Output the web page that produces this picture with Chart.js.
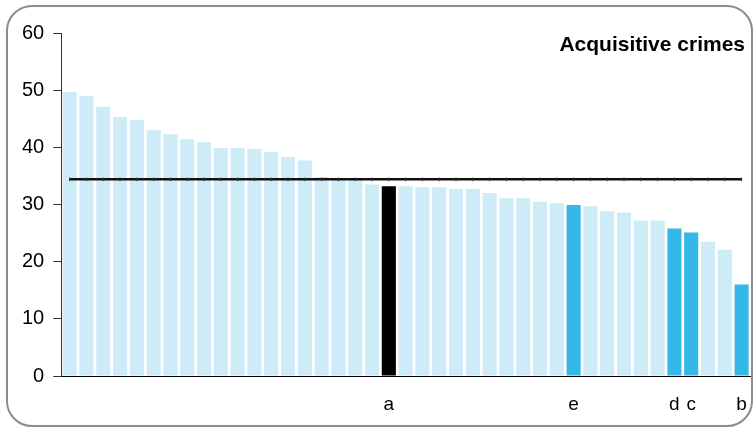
<!DOCTYPE html>
<html>
<head>
<meta charset="utf-8">
<script src="https://cdn.jsdelivr.net/npm/chart.js@4.4.1/dist/chart.umd.min.js"></script>
<style>
  html, body { margin: 0; padding: 0; background: #fff; }
  #wrap { position: relative; width: 755px; height: 429px; }
  #frame { position: absolute; left: 6px; top: 5px; width: 743px; height: 418px;
           border: 2px solid #8c8c8c; border-radius: 26px; pointer-events: none; }
  canvas { position: absolute; left: 0; top: 0; }
</style>
</head>
<body>
<div id="wrap">
  <canvas id="c" width="755" height="429"></canvas>
  <div id="frame"></div>
</div>
<script>
// Category labels (only marked areas are labelled)
const categories = ['', '', '', '', '', '', '', '', '', '',
                    '', '', '', '', '', '', '', '', '', 'a',
                    '', '', '', '', '', '', '', '', '', '',
                    'e', '', '', '', '', '', 'd', 'c', '', '',
                    'b'];
// Bar values (crimes)
const values = [49.7, 49.0, 47.1, 45.3, 44.8, 43.0, 42.3, 41.4, 40.9, 39.9,
                39.9, 39.7, 39.2, 38.3, 37.7, 34.8, 34.5, 34.4, 33.5, 33.2,
                33.2, 33.0, 33.0, 32.7, 32.7, 32.0, 31.1, 31.1, 30.5, 30.2,
                29.9, 29.7, 28.8, 28.6, 27.2, 27.2, 25.8, 25.1, 23.5, 22.1,
                16.0];
// Average reference line
const averageValue = 34.4;
const selectedLabels = ['a'];
const comparatorLabels = ['e', 'd', 'c', 'b'];
const yTicks = [0, 10, 20, 30, 40, 50, 60];
const titleText = 'Acquisitive crimes';

const barColors = categories.map(l =>
  selectedLabels.includes(l) ? '#000000' :
  comparatorLabels.includes(l) ? '#33b8e8' : '#cdecf8');

const titlePlugin = {
  id: 'cornerTitle',
  afterDraw(chart) {
    const ctx = chart.ctx;
    ctx.save();
    ctx.font = 'bold 21px "Liberation Sans", Arial, sans-serif';
    ctx.fillStyle = '#000';
    ctx.textAlign = 'right';
    ctx.textBaseline = 'alphabetic';
    ctx.fillText(titleText, 745, 51);
    ctx.restore();
  }
};

new Chart(document.getElementById('c'), {
  data: {
    labels: categories,
    datasets: [
      {
        type: 'line',
        data: categories.map(() => averageValue),
        borderColor: '#111',
        borderWidth: 2.5,
        pointStyle: 'line',
        rotation: 90,
        pointRadius: 1.8,
        pointBorderWidth: 1,
        pointBorderColor: '#333',
        fill: false,
        order: 0
      },
      {
        type: 'bar',
        data: values,
        backgroundColor: barColors,
        borderWidth: 0,
        categoryPercentage: 1.0,
        barPercentage: 0.84,
        order: 1
      }
    ]
  },
  options: {
    responsive: false,
    animation: false,
    devicePixelRatio: 1,
    layout: { padding: { left: 13, right: 5, top: 33, bottom: 15 } },
    plugins: { legend: { display: false }, tooltip: { enabled: false } },
    scales: {
      x: {
        grid: { display: true, drawOnChartArea: false, drawTicks: true,
                tickLength: 19, color: 'rgba(0,0,0,0)' },
        border: { display: true, color: '#000', width: 1 },
        ticks: {
          autoSkip: false, maxRotation: 0, minRotation: 0, padding: 0,
          color: '#000',
          font: { family: '"Liberation Sans", Arial, sans-serif', size: 19, lineHeight: 1 }
        }
      },
      y: {
        min: 0, max: 60,
        afterBuildTicks(scale) { scale.ticks = yTicks.map(v => ({ value: v })); },
        grid: { drawOnChartArea: false, tickLength: 8, color: '#333' },
        border: { display: true, color: '#333', width: 1 },
        ticks: {
          padding: 9, color: '#000',
          font: { family: '"Liberation Sans", Arial, sans-serif', size: 20 }
        }
      }
    }
  },
  plugins: [titlePlugin]
});
</script>
</body>
</html>
